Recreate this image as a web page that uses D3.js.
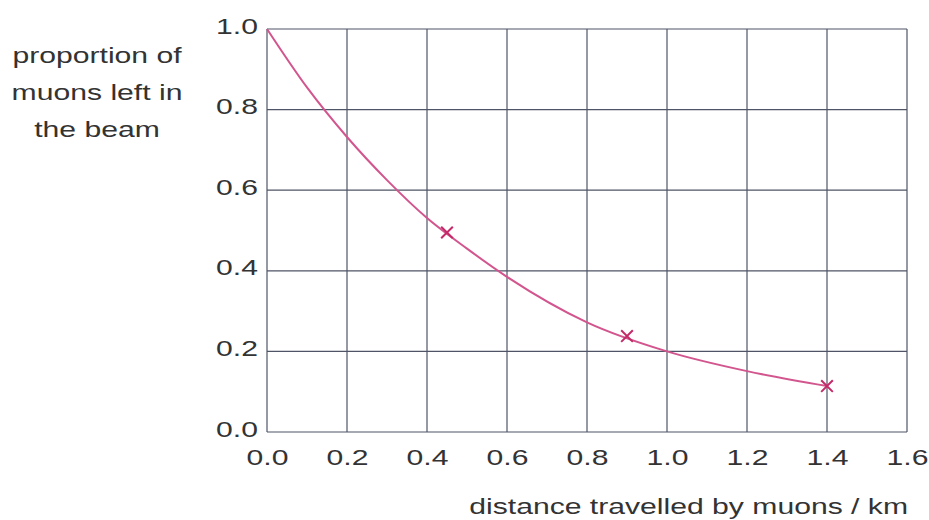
<!DOCTYPE html>
<html>
<head>
<meta charset="utf-8">
<script src="https://cdn.jsdelivr.net/npm/d3@7"></script>
<style>
  body { margin: 0; background: #fff; }
  svg text { font-family: "Liberation Sans", Arial, sans-serif; fill: #333; }
</style>
</head>
<body>
<div id="chart"></div>
<script>
const curveX = [0, 0.1, 0.2, 0.3, 0.4, 0.5, 0.6, 0.8, 1.0, 1.2, 1.4];
const curveY = [1.0, 0.855, 0.732, 0.625, 0.531, 0.455, 0.385, 0.272, 0.2, 0.151, 0.114];

// measured points (crosses)
const pointX = [0.45, 0.9, 1.4];
const pointY = [0.495, 0.238, 0.114];

const xTicks = [0, 0.2, 0.4, 0.6, 0.8, 1.0, 1.2, 1.6 - 0.2, 1.6];
const yTicks = [0, 0.2, 0.4, 0.6, 0.8, 1.0];
const yTitle = ["proportion of", "muons left in", "the beam"];
const xTitle = "distance travelled by muons / km";

const width = 929, height = 520;
const stretch = 1.37;   // the scanned lettering is wide
const fontSize = 22;
const gridColor = "#4f5566";

const svg = d3.select("#chart").append("svg")
    .attr("width", width)
    .attr("height", height);

const x = d3.scaleLinear().domain([0, 1.6]).range([267, 907]);
const y = d3.scaleLinear().domain([0, 1]).range([432, 29]);

// grid
const grid = svg.append("g");
grid.selectAll(".vline")
    .data(xTicks)
    .enter().append("line")
    .attr("x1", d => x(d)).attr("x2", d => x(d))
    .attr("y1", y(0)).attr("y2", y(1))
    .attr("stroke", gridColor)
    .attr("stroke-width", 1.2);
grid.selectAll(".hline")
    .data(yTicks)
    .enter().append("line")
    .attr("x1", x(0)).attr("x2", x(1.6))
    .attr("y1", d => y(d)).attr("y2", d => y(d))
    .attr("stroke", gridColor)
    .attr("stroke-width", 1.2);

// axes: only the labels, the grid already gives the lines
const xAxis = svg.append("g")
    .attr("transform", `translate(0,${y(0)})`)
    .call(d3.axisBottom(x).tickValues(xTicks).tickFormat(d3.format(".1f")).tickSize(0));
xAxis.select(".domain").remove();
xAxis.selectAll("text")
    .attr("y", 0).attr("dy", 0)
    .attr("transform", `translate(0,33) scale(${stretch},1)`)
    .style("font-size", fontSize + "px")
    .style("fill", "#333");

const yAxis = svg.append("g")
    .attr("transform", `translate(${x(0)},0)`)
    .call(d3.axisLeft(y).tickValues(yTicks).tickFormat(d3.format(".1f")).tickSize(0));
yAxis.select(".domain").remove();
yAxis.selectAll("text")
    .attr("x", 0).attr("dy", 0)
    .attr("transform", `translate(-9,4) scale(${stretch},1)`)
    .style("font-size", fontSize + "px")
    .style("fill", "#333");

// titles
svg.append("g").selectAll("text")
    .data(yTitle)
    .enter().append("text")
    .attr("transform", (d, i) => `translate(97,${63 + i * 37}) scale(${stretch},1)`)
    .attr("text-anchor", "middle")
    .style("font-size", fontSize + "px")
    .text(d => d);

svg.append("text")
    .attr("transform", `translate(908,514) scale(${stretch},1)`)
    .attr("text-anchor", "end")
    .style("font-size", fontSize + "px")
    .text(xTitle);

// curve
const curveData = curveX.map((d, i) => ({ x: d, y: curveY[i] }));
const line = d3.line()
    .x(d => x(d.x))
    .y(d => y(d.y))
    .curve(d3.curveMonotoneX);

svg.append("path")
    .datum(curveData)
    .attr("d", line)
    .attr("fill", "none")
    .attr("stroke", "#d2558e")
    .attr("stroke-width", 2);

// crosses
const pts = pointX.map((d, i) => ({ x: d, y: pointY[i] }));
svg.selectAll(".pt")
    .data(pts)
    .enter().append("path")
    .attr("class", "pt")
    .attr("transform", d => `translate(${x(d.x)},${y(d.y)})`)
    .attr("d", d3.symbol().type(d3.symbolTimes).size(90))
    .attr("fill", "none")
    .attr("stroke", "#c42a68")
    .attr("stroke-width", 2);
</script>
</body>
</html>
